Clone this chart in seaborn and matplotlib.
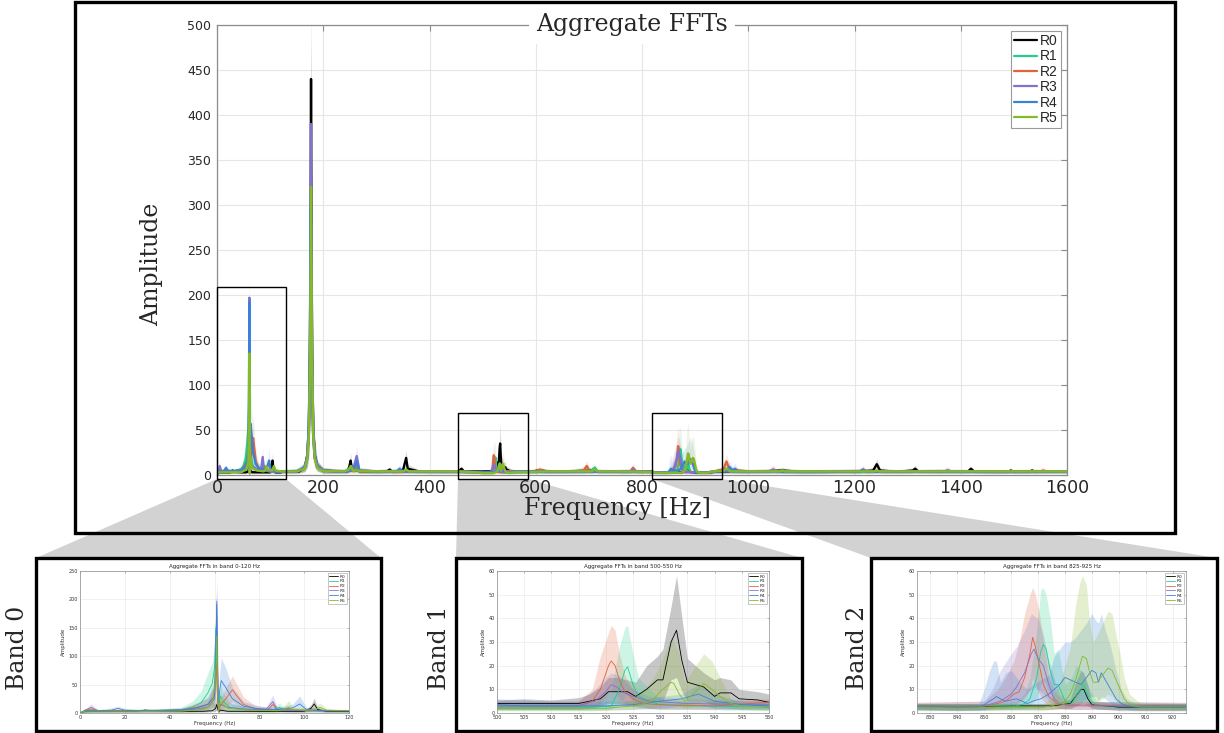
import matplotlib
matplotlib.use("Agg")
import matplotlib.pyplot as plt
import seaborn as sns
import pandas as pd
from matplotlib.patches import Rectangle, Polygon
from matplotlib.lines import Line2D

# ---------------- data ----------------
SERIES = ["R0", "R1", "R2", "R3", "R4", "R5"]
COLORS = ["#000000", "#1fcf8b", "#e0633a", "#8173cc", "#3b82d6", "#86b92a"]

MAIN_TITLE = "Aggregate FFTs"
MAIN_XTICKS = [0, 200, 400, 600, 800, 1000, 1200, 1400, 1600]
MAIN_YTICKS = [0, 50, 100, 150, 200, 250, 300, 350, 400, 450, 500]
BAND_NAMES = ["Band 0", "Band 1", "Band 2"]
BAND_TITLES = ["Aggregate FFTs in band 0-120 Hz",
               "Aggregate FFTs in band 500-550 Hz",
               "Aggregate FFTs in band 825-925 Hz"]
BAND_XLIM = [(0, 120), (500, 550), (825, 925)]
BAND_YLIM = [(0, 250), (0, 60), (0, 60)]
BAND_XTICKS = [[0, 20, 40, 60, 80, 100, 120],
               [500, 505, 510, 515, 520, 525, 530, 535, 540, 545, 550],
               [830, 840, 850, 860, 870, 880, 890, 900, 910, 920]]
BAND_YTICKS = [[0, 50, 100, 150, 200, 250],
               [0, 10, 20, 30, 40, 50, 60],
               [0, 10, 20, 30, 40, 50, 60]]
# zoom boxes in the main chart: (f0, f1, amp0, amp1)
ZOOM_BOXES = [(0, 130, -4, 209), (453, 585, -4, 69), (819, 951, -4, 69)]

# rows: (frequency, mean amplitude, lower band, upper band)
B0_R0 = [(0,0,0,0),(2,3,1,5),(10,3,1.5,5),(25,3,1.5,5),(29,5,2,8),(32,4,2,7),(45,3,1.5,5),(55,3,1.5,5),
         (59,4,2,7),(60.5,8,3,20),(61,15,5,40),(61.8,2,0.5,4),(62.5,5,2,9),(66,3,1.5,5),(80,3,1.5,5),
         (100,3,1.5,5),(103,8,4,14),(104.5,16,8,26),(106,6,3,10),(110,3,1.5,5),(120,3,1.5,5)]
B0_R1 = [(0,0,0,0),(2,4,1.5,7),(10,4,2,6),(30,4,2,6),(45,6,2,10),(50,10,4,20),(54,18,7,38),(57,35,14,70),
         (59,52,20,90),(60,80,30,120),(60.6,150,80,190),(61.2,60,20,100),(61.8,3,1,6),(62.5,30,10,50),
         (64,20,8,35),(67,10,4,18),(72,7,3,12),(80,6,2,9),(86,5,2,8),(89,10,4,18),(91,5,2,8),(100,4,2,6),
         (110,4,2,6),(120,4,2,6)]
B0_R2 = [(0,0,0,0),(2,4,1.5,7),(5,7,3,11),(8,4,2,6),(30,4,2,6),(45,5,2,8),(52,10,4,18),(57,15,6,26),
         (60,30,12,50),(60.8,85,40,130),(61.3,30,10,60),(61.8,3,1,6),(62.5,12,5,22),(65,25,10,45),
         (68,41,20,65),(70,30,14,50),(73,15,7,28),(78,8,3,14),(84,6,3,10),(86,15,7,22),(88,6,3,10),
         (95,5,2,8),(110,4,2,6),(120,4,2,6)]
B0_R3 = [(0,0,0,0),(2,4,1.5,7),(5,10,4,16),(8,4,2,6),(30,4,2,6),(50,6,2,10),(57,10,4,18),(60,25,10,50),
         (60.7,120,60,180),(61,197,140,240),(61.4,80,30,130),(61.8,3,1,6),(62.5,15,6,25),(66,10,4,18),
         (75,6,3,10),(83,6,3,10),(86,20,10,32),(88,6,3,10),(100,4,2,6),(120,4,2,6)]
B0_R4 = [(0,0,0,0),(2,4,1.5,7),(8,4,2,6),(14,5,2,9),(17,8,4,12),(20,5,2,8),(30,4,2,6),(45,5,2,8),
         (52,9,4,16),(57,15,6,28),(60,30,12,55),(60.7,140,70,200),(61,192,120,215),(61.4,70,30,110),
         (61.8,3,1,6),(62.3,40,15,70),(63,57,28,97),(65,45,20,80),(68,25,12,45),(73,12,6,20),(80,7,3,12),
         (88,6,3,10),(95,9,4,16),(98,16,8,30),(101,6,3,10),(110,4,2,6),(120,4,2,6)]
B0_R5 = [(0,0,0,0),(2,3,1,6),(10,3,1.5,5),(30,3,1.5,5),(45,3,1.5,5),(55,6,2,12),(59,15,5,30),
         (60.5,60,25,100),(61,135,80,170),(61.4,50,20,90),(61.8,2,0.5,5),(62.5,20,8,35),(66,8,3,14),
         (75,5,2,8),(88,4,2,7),(91,6,3,12),(93,10,4,22),(95,6,3,10),(104,5,2,9),(107,10,4,18),(110,5,2,8),
         (120,4,2,6)]

B1_R0 = [(500,4,2,5.5),(505,4,2,6),(510,4,2,5.5),(515,4,2,6.5),(517,5,2.5,8),(519,6,3,11),(520.5,9,4,15),
         (522,9,4,15),(524,9,3,14),(525.5,7,3,13),(527.5,10,4,20),(529.5,14,5,24),(530.5,14,5,27),
         (532,30,14,45),(533,35,15,58),(534,22,9,40),(535,13,5,23),(536.5,12,5,20),(538,11,5,17),
         (540,7,3,14),(541,8.5,3,15),(543,8.5,3,14),(544.5,6,3,10),(548,5.5,3,9),(550,4.5,2,8)]
B1_R1 = [(500,2.5,1,4),(510,2.5,1,4),(518,2.5,1,4),(521,3,1.5,10),(522.5,10,4,28),(523.5,18,7,36),
         (524,19.5,8,37),(525,12,5,25),(526,7,3,15),(528,5,2,10),(530,3.5,1.5,6),(535,3,1.5,5),(550,2.5,1,4)]
B1_R2 = [(500,3,1.5,5),(510,3,1.5,5),(515,3,1.5,5),(517.5,5,2,10),(519,10,4,24),(520.5,20,9,34),
         (521,22,10,37),(521.7,20,9,35),(522.5,14,6,25),(523.5,9,4,16),(525,6,2.5,10),(527,4,2,6),
         (530,3.5,1.5,5),(540,3,1.5,5),(550,4.5,2,6)]
B1_R3 = [(500,3,1.5,5),(510,3,1.5,5),(515,3,1.5,5),(518,5,2,10),(520,9,4,15),(521,12,5,17),(522,11,5,16),
         (523,9,4,15),(525,7,3,10),(528,5,2,7),(535,4,2,6),(550,3.5,1.5,5)]
B1_R4 = [(500,3.5,1.5,6),(505,3,1.5,5.5),(510,3,1.5,5),(520,3,1.5,5),(525,3.5,1.5,5),(530,5,2,7),
         (534,6,3,8),(537,8,4,12),(538,7,3,11),(540,5,2,8),(545,3.5,1.5,5),(550,3,1.5,5)]
B1_R5 = [(500,2,1,3),(510,2,1,3),(520,2,1,3),(525,3,1.5,6),(527,4,2,10),(528.5,5,2,14),(530,9,3,20),
         (532,13,5,32),(532.5,12.5,5,30),(533.5,8,3,25),(534.5,5,2,13),(536.5,9,3,20),(538,12.5,5,25),
         (539.5,10,4,22),(541,7,3,15),(543,4,2,6),(545,3,1.5,4),(550,2.5,1,3.5)]

B2_R0 = [(825,3,1.5,4),(840,2.5,1,4),(860,3,1.5,4),(875,3,1.5,4),(882,4,2,6),(884,7,3,13),(886,10,4,18),
         (887,10,4,17),(888.5,6,3,12),(890,3.5,2,5),(900,2.5,1,4),(925,2.5,1,4)]
B2_R1 = [(825,3,1.5,4),(850,3,1.5,4),(862,3,1.5,5),(865,4,2,8),(867,6,3,15),(869.5,15,6,35),(871,26,12,52),
         (872,29,14,53),(873,27,12,50),(874.5,18,8,40),(876,12,5,25),(877.5,12,5,27),(879,8,3,18),
         (880,5,2,12),(882.5,4,2,15),(884,7,3,20),(886,10,4,18),(887,12,5,16),(889,6,3,10),(892,3,1.5,5),
         (925,3,1.5,4)]
B2_R2 = [(825,3,1.5,4.5),(850,3,1.5,5),(855,4,2,10),(858,5,2,15),(861,8,3,22),(863,9,4,30),(865,15,6,42),
         (867,25,10,50),(868,32,15,53),(869,28,12,50),(870.5,20,8,42),(872,12,5,30),(874,7,3,15),
         (877,4,2,8),(880,3.5,1.5,5),(925,3,1.5,4.5)]
B2_R3 = [(825,3,1.5,4.5),(850,3,1.5,5),(853,4,2,10),(856,5,2,18),(860,8,3,25),(862,11,4,28),(865,17,7,35),
         (867.5,25,10,42),(868.5,27,11,41),(870,23,10,40),(872,20,8,33),(874,12,5,22),(876,6,3,15),
         (878,4,2,8),(882,3,1.5,5),(925,3,1.5,4.5)]
B2_R4 = [(825,2.5,1,4),(848,2.5,1,4),(850,3.5,1.5,10),(852,5,2,18),(853.5,6,2,22),(854.5,7,3,22),
         (856,6,2,13),(858,5,2,17),(860,5.5,2,18),(862,6,2,15),(864,5,2,12),(866,4,2,10),(868,5,2,12),
         (871,6,2,14),(874,8,3,16),(876,10,4,24),(878,12,5,27),(880,15,6,30),(882,14,5,30),(884,13,5,32),
         (886,12,5,35),(888,15,6,38),(890,18,7,42),(891.5,17,7,39),(892.5,13,5,38),(893.5,17,7,42),
         (895,14,6,35),(897,10,4,28),(899,6,2,18),(901,4,2,10),(903,3,1.5,6),(906,2.5,1,4),(925,2.5,1,4)]
B2_R5 = [(825,2.5,1,4),(850,2.5,1,4),(872,2.5,1,4),(875,3,1.5,6),(878,4,2,12),(880,5,2,20),(882,8,3,28),
         (884,14,5,46),(885.5,20,8,55),(886.5,24,10,58),(888,23,9,54),(889,18,7,40),(890.5,13,5,30),
         (892,13,5,33),(894,16,6,38),(896,19,8,43),(897.5,18,7,42),(899,14,5,33),(900.5,10,4,25),
         (902,6,2,15),(904,3.5,1.5,8),(908,2.5,1,4),(925,2.5,1,4)]

# main-chart points outside the three bands
M_R0 = [(125,4,2,6),(140,3.5,1.5,6),(155,4,2,7),(165,8,4,14),(170,22,10,40),(173,55,25,95),(175,140,70,260),
        (176.5,330,200,470),(177,440,300,520),(177.5,330,200,470),(179,140,70,260),(181,55,25,95),
        (184,22,10,40),(189,10,5,16),(200,5,2,8),(225,4,2,6),(245,4,2,7),(249,9,4,15),(251.5,16,8,25),
        (254,6,3,10),(270,4,2,6),(300,3.5,1.5,6),(320,4,2,7),(325,6,3,9),(330,3.5,1.5,6),(350,5,2,8),
        (353,12,6,18),(356,19,10,28),(359,7,3,12),(380,4,2,6),(420,3.5,1.5,6),(455,4,2,6),(460,7,3,10),
        (465,4,2,6),(490,4,2,6),
        (560,4,2,6),(590,3.5,1.5,6),(605,5,2,8),(610,5,2,8),(630,3.5,1.5,6),(670,4,2,6),(705,5,2,8),
        (711,7,3,11),(716,4,2,6),(760,3.5,1.5,6),(800,3.5,1.5,6),(815,4,2,6),
        (940,4,2,6),(990,3.5,1.5,6),(1030,4,2,6),(1064,5,2,8),(1100,3.5,1.5,6),(1150,3.5,1.5,6),
        (1168,4,2,6),(1200,3.5,1.5,6),(1235,5,2,8),(1242,12,6,18),(1248,5,2,8),(1280,3.5,1.5,6),
        (1310,5,2,8),(1314,7,3,11),(1320,4,2,6),(1360,3.5,1.5,6),(1414,4,2,6),(1419,7,3,10),(1425,4,2,6),
        (1460,3.5,1.5,6),(1490,3.5,1.5,6),(1494,5,2,8),(1499,3.5,1.5,6),(1530,3.5,1.5,6),(1534,5,2,8),
        (1540,3.5,1.5,6),(1580,4,2,6),(1600,4,2,6)]
M_R1 = [(125,4,2,6),(150,4,2,7),(165,8,4,14),(170,20,9,36),(173,50,22,90),(175,130,65,240),
        (176.5,240,150,380),(177,280,170,420),(177.5,240,150,380),(179,130,65,240),(181,50,22,90),
        (184,20,9,36),(189,9,4,15),(200,4.5,2,8),(240,4,2,6),(249,7,3,12),(252,10,5,18),(255,5,2,8),
        (260,6,3,10),(263,10,5,16),(267,4,2,7),(300,3.5,1.5,6),(350,4,2,6),(400,3.5,1.5,6),(450,4,2,6),
        (490,3,1.5,5),
        (560,3,1.5,5),(600,3.5,1.5,6),(650,4,2,6),(705,5,2,9),(711,8,4,13),(716,4,2,7),(760,3.5,1.5,6),
        (800,4,2,6),(815,3.5,1.5,6),
        (935,4,2,6),(955,5,2,9),(960,7,3,12),(966,4,2,7),(1000,3.5,1.5,6),(1060,4,2,7),(1064,5,2,9),
        (1070,3.5,1.5,6),(1120,3.5,1.5,6),(1200,4,2,6),(1260,3.5,1.5,6),(1330,4,2,6),(1400,3.5,1.5,6),
        (1470,4,2,6),(1540,3.5,1.5,6),(1600,4,2,6)]
M_R2 = [(125,4,2,6),(150,4,2,7),(165,7,3,12),(170,18,8,32),(173,45,20,80),(175,110,55,200),
        (176.5,210,130,330),(177,250,150,370),(177.5,210,130,330),(179,110,55,200),(181,45,20,80),
        (184,18,8,32),(189,8,4,14),(200,4.5,2,8),(245,4,2,6),(258,5,2,9),(263,12,6,20),(268,4,2,7),
        (300,4,2,6),(340,3.5,1.5,6),(400,4,2,6),(450,3.5,1.5,6),(490,3,1.5,5),
        (560,4,2,6),(600,4,2,7),(608,6,3,10),(615,4,2,6),(660,3.5,1.5,6),(690,5,2,9),(696,10,5,16),
        (702,4,2,7),(740,4,2,6),(778,4,2,7),(783,8,4,13),(789,4,2,6),(815,3.5,1.5,6),
        (935,4,2,6),(953,6,3,10),(959,15,7,24),(965,6,3,10),(1000,4,2,6),(1040,4,2,7),(1047,6,3,11),
        (1054,4,2,6),(1100,3.5,1.5,6),(1160,4,2,6),(1210,4,2,7),(1216,6,3,10),(1222,4,2,6),(1300,4,2,6),
        (1370,4,2,7),(1375,5,2,9),(1382,4,2,6),(1450,3.5,1.5,6),(1550,4,2,7),(1555,5,2,9),(1562,4,2,6),
        (1600,4,2,6)]
M_R3 = [(125,4,2,6),(150,4,2,7),(165,8,4,14),(170,22,10,40),(173,55,25,95),(175,140,70,260),
        (176.3,300,190,440),(176.8,390,260,480),(177.3,300,190,440),(179,140,70,260),(181,55,25,95),
        (184,22,10,40),(189,10,5,16),(200,5,2,8),(245,4,2,6),(257,8,4,14),(263,21,10,32),(268,5,2,9),
        (300,4,2,6),(338,4,2,7),(344,5,2,9),(350,4,2,6),(400,4,2,6),(450,3.5,1.5,6),(490,3,1.5,5),
        (560,4,2,6),(620,3.5,1.5,6),(680,4,2,6),(740,4,2,6),(778,4,2,7),(783,6,3,10),(789,4,2,6),
        (815,3.5,1.5,6),
        (935,4,2,6),(990,4,2,6),(1040,4,2,7),(1047,6,3,10),(1054,4,2,6),(1120,3.5,1.5,6),(1210,4,2,7),
        (1216,5,2,9),(1222,4,2,6),(1300,4,2,6),(1370,4,2,7),(1375,5,2,9),(1382,4,2,6),(1460,3.5,1.5,6),
        (1530,4,2,6),(1600,4,2,6)]
M_R4 = [(125,4,2,6),(150,4,2,7),(165,8,4,14),(170,20,9,36),(172.5,50,22,90),(174.5,120,60,230),
        (176,260,160,400),(176.5,300,180,440),(177,260,160,400),(178.5,120,60,230),(180.5,50,22,90),
        (183.5,20,9,36),(189,9,4,15),(200,4.5,2,8),(245,4,2,6),(257,6,3,10),(263,15,7,24),(268,5,2,8),
        (300,4,2,6),(338,4,2,7),(344,7,3,12),(350,4,2,6),(400,4,2,6),(450,4,2,6),(490,3.5,1.5,6),
        (560,3.5,1.5,6),(620,4,2,6),(680,3.5,1.5,6),(740,4,2,6),(790,4,2,6),(815,3.5,1.5,6),
        (935,4,2,6),(960,5,2,10),(965,9,4,16),(970,5,2,10),(975,7,3,13),(981,4,2,7),(1020,4,2,6),
        (1100,3.5,1.5,6),(1210,4,2,7),(1216,6,3,10),(1222,4,2,6),(1300,4,2,6),(1380,4,2,7),
        (1450,3.5,1.5,6),(1530,4,2,6),(1600,4,2,6)]
M_R5 = [(125,4,2,6),(150,4,2,7),(165,7,3,12),(170,18,8,32),(173,45,20,80),(175,120,60,220),
        (176.5,250,160,380),(177,320,200,440),(177.5,250,160,380),(179,120,60,220),(181,45,20,80),
        (184,18,8,32),(189,8,4,14),(200,4.5,2,8),(240,4,2,6),(248,6,3,10),(252,10,5,17),(256,5,2,8),
        (300,4,2,6),(350,4,2,7),(356,6,3,10),(362,4,2,6),(400,4,2,6),(450,4,2,6),(490,3,1.5,5),
        (560,3,1.5,5),(620,4,2,6),(680,4,2,6),(705,4,2,7),(711,6,3,10),(717,4,2,6),(760,4,2,6),
        (815,3.5,1.5,6),
        (935,4,2,6),(954,5,2,9),(960,7,3,12),(966,4,2,7),(1000,4,2,6),(1060,4,2,7),(1064,5,2,9),
        (1070,4,2,6),(1150,4,2,6),(1236,4,2,6),(1242,5,2,8),(1248,4,2,6),(1330,4,2,6),(1420,4,2,6),
        (1510,4,2,6),(1600,4,2,6)]

B0 = [B0_R0, B0_R1, B0_R2, B0_R3, B0_R4, B0_R5]
B1 = [B1_R0, B1_R1, B1_R2, B1_R3, B1_R4, B1_R5]
B2 = [B2_R0, B2_R1, B2_R2, B2_R3, B2_R4, B2_R5]
MAIN = [M_R0, M_R1, M_R2, M_R3, M_R4, M_R5]
BANDS = [B0, B1, B2]


def to_frame(rows):
    return pd.DataFrame(sorted(rows), columns=["f", "mean", "lo", "hi"])


# ---------------- figure ----------------
sns.set_theme(style="whitegrid")
plt.rcParams["font.family"] = ["DejaVu Sans"]
W, H = 1224, 733
fig = plt.figure(figsize=(W / 100, H / 100), dpi=100)
fig.patch.set_facecolor("white")


def px_axes(l, t, r, b, z):
    return fig.add_axes([l / W, 1 - b / H, (r - l) / W, (b - t) / H], zorder=z)


# background layer in pixel coordinates (frames, connectors, labels)
bg = fig.add_axes([0, 0, 1, 1], zorder=0)
bg.set_xlim(0, W)
bg.set_ylim(H, 0)
bg.axis("off")

bg.add_patch(Rectangle((75, 2), 1100, 531, facecolor="white", edgecolor="none", zorder=1))
connectors = [[(217, 479), (286, 479), (381, 558), (36, 558)],
              [(458, 479), (528, 479), (802, 558), (456, 558)],
              [(652, 479), (722, 479), (1217, 558), (871, 558)]]
for poly in connectors:
    bg.add_patch(Polygon(poly, closed=True, facecolor="#d2d2d2", edgecolor="none", zorder=2))
bg.add_patch(Rectangle((75, 2), 1100, 531, facecolor="none", edgecolor="black", lw=2.4, zorder=3))
sub_frames = [(36, 558, 381, 731), (456, 558, 802, 731), (871, 558, 1217, 731)]
for (l, t, r, b) in sub_frames:
    bg.add_patch(Rectangle((l, t), r - l, b - t, facecolor="white", edgecolor="black", lw=2.4, zorder=4))

serif = {"family": "DejaVu Serif", "size": 17}
bg.text(152, 264, "Amplitude", rotation=90, ha="center", va="center", zorder=6, **serif)
bg.text(617, 509, "Frequency [Hz]", ha="center", va="center", zorder=6, **serif)
for name, xc in zip(BAND_NAMES, [18, 440, 857]):
    bg.text(xc, 648, name, rotation=90, ha="center", va="center", zorder=6, **serif)

spine_col = "#8c8c8c"
grid_col = "#e6e6e6"

# ---------------- main chart ----------------
ax = px_axes(217, 25, 1067, 475, 5)
ax.set_facecolor("white")
for k, name in enumerate(SERIES):
    df = to_frame(B0[k] + MAIN[k] + B1[k] + B2[k])
    ax.fill_between(df["f"], df["lo"], df["hi"], color=COLORS[k], alpha=0.13, lw=0)
    sns.lineplot(data=df, x="f", y="mean", color=COLORS[k], lw=1.7, ax=ax,
                 estimator=None, sort=False, legend=False)
for (f0, f1, a0, a1) in ZOOM_BOXES:
    ax.add_patch(Rectangle((f0, a0), f1 - f0, a1 - a0, fill=False, edgecolor="black",
                           lw=1.0, clip_on=False, zorder=8))
ax.set_xlim(0, 1600)
ax.set_ylim(0, 500)
ax.set_xticks(MAIN_XTICKS)
ax.set_yticks(MAIN_YTICKS)
ax.set_xlabel("")
ax.set_ylabel("")
ax.grid(True, color=grid_col, lw=0.8)
for s in ax.spines.values():
    s.set_visible(True)
    s.set_color(spine_col)
    s.set_linewidth(0.9)
ax.tick_params(axis="both", direction="in", top=True, right=True, length=4,
               color=spine_col, labelcolor="#262626", width=0.8)
ax.tick_params(axis="x", labelsize=12.5, pad=3)
ax.tick_params(axis="y", labelsize=9, pad=4)
ax.text(0.488, 1.0, MAIN_TITLE, transform=ax.transAxes, ha="center", va="center",
        fontfamily="DejaVu Serif", fontsize=17, zorder=20, clip_on=False,
        bbox=dict(boxstyle="square,pad=0.3", facecolor="white", edgecolor="none"))
handles = [Line2D([], [], color=c, lw=1.6) for c in COLORS]
leg = ax.legend(handles, SERIES, loc="upper right", frameon=True, fancybox=False,
                framealpha=1, edgecolor="#9a9a9a", prop={"family": "Liberation Sans", "size": 10},
                handlelength=1.6, handletextpad=0.25, labelspacing=0.1, borderpad=0.25,
                borderaxespad=0.4)
leg.get_frame().set_linewidth(0.8)
leg.set_zorder(30)

# ---------------- band panels ----------------
sub_axes = [(80, 571, 349, 713), (497, 571, 769, 713), (917, 571, 1186, 713)]
for i, (l, t, r, b) in enumerate(sub_axes):
    sa = px_axes(l, t, r, b, 6)
    sa.set_facecolor("white")
    for k, name in enumerate(SERIES):
        df = to_frame(BANDS[i][k])
        sa.fill_between(df["f"], df["lo"], df["hi"], color=COLORS[k], alpha=0.22, lw=0)
        sns.lineplot(data=df, x="f", y="mean", color=COLORS[k], lw=0.6, ax=sa,
                     estimator=None, sort=False, legend=False)
    sa.set_xlim(*BAND_XLIM[i])
    sa.set_ylim(*BAND_YLIM[i])
    sa.set_xticks(BAND_XTICKS[i])
    sa.set_yticks(BAND_YTICKS[i])
    sa.grid(True, color=grid_col, lw=0.4)
    for s in sa.spines.values():
        s.set_visible(True)
        s.set_color(spine_col)
        s.set_linewidth(0.5)
    sa.tick_params(axis="both", direction="in", top=True, right=True, length=1.5,
                   color=spine_col, labelcolor="#333333", width=0.4, labelsize=3.5, pad=1.5)
    sa.set_title(BAND_TITLES[i], fontsize=4, pad=2, color="#222222")
    sa.set_xlabel("Frequency (Hz)", fontsize=4, labelpad=1, color="#333333")
    sa.set_ylabel("Amplitude", fontsize=4, labelpad=2, color="#333333")
    sh = [Line2D([], [], color=c, lw=0.6) for c in COLORS]
    lg = sa.legend(sh, SERIES, loc="upper right", frameon=True, fancybox=False, framealpha=1,
                   edgecolor="#9a9a9a", fontsize=3.2, handlelength=2.0, handletextpad=0.3,
                   labelspacing=0.15, borderpad=0.3, borderaxespad=0.5)
    lg.get_frame().set_linewidth(0.4)

fig.savefig("out.png", dpi=100, facecolor="white")
